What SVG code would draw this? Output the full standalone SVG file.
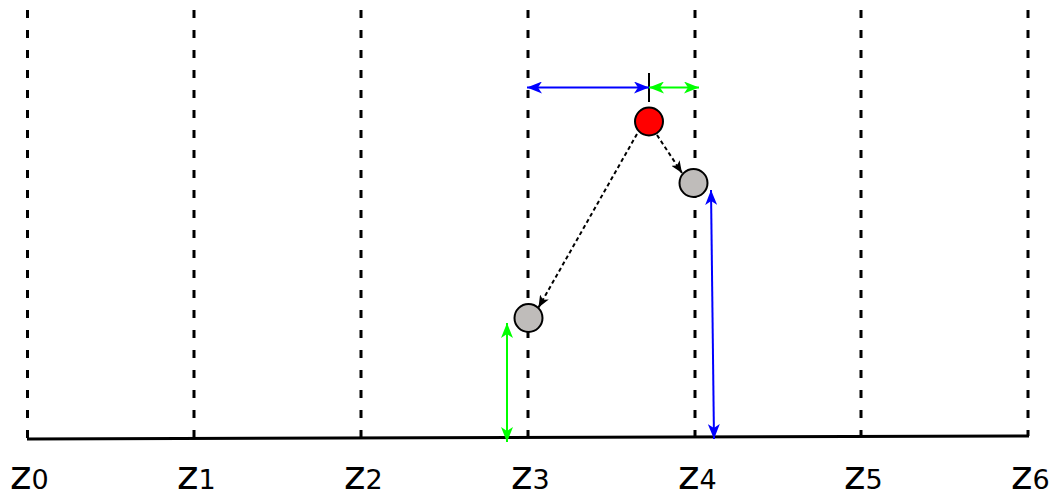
<svg xmlns="http://www.w3.org/2000/svg" width="1062" height="496" viewBox="0 0 1062 496">
<style>
.grid{stroke:#000;stroke-width:3;stroke-dasharray:8 12;fill:none}
.lbl{font-family:"DejaVu Sans",sans-serif;font-size:41px;fill:#000}
.sub{font-size:27px}
.node{stroke:#000;stroke-width:2}
.dash{stroke:#000;stroke-width:2;stroke-dasharray:4 3;fill:none}
</style>
<defs>
<marker id="ab" viewBox="0 0 15 12" refX="15" refY="6" markerWidth="15" markerHeight="12" markerUnits="userSpaceOnUse" orient="auto-start-reverse"><path d="M0,0 L15,6 L0,12 L4,6 z" fill="#0000ff"/></marker>
<marker id="ag" viewBox="0 0 15 12" refX="15" refY="6" markerWidth="15" markerHeight="12" markerUnits="userSpaceOnUse" orient="auto-start-reverse"><path d="M0,0 L15,6 L0,12 L4,6 z" fill="#00ff00"/></marker>
<marker id="ak" viewBox="0 0 12 10" refX="12" refY="5" markerWidth="12" markerHeight="10" markerUnits="userSpaceOnUse" orient="auto"><path d="M0,0 L12,5 L0,10 L3,5 z" fill="#000"/></marker>
</defs>
<g id="grid">
<line class="grid" x1="27.5" y1="10" x2="27.5" y2="439"/>
<line class="grid" x1="194" y1="10" x2="194" y2="439"/>
<line class="grid" x1="361" y1="10" x2="361" y2="438"/>
<line class="grid" x1="528" y1="10" x2="528" y2="438"/>
<line class="grid" x1="695" y1="10" x2="695" y2="437"/>
<line class="grid" x1="861" y1="10" x2="861" y2="437"/>
<line class="grid" x1="1028" y1="10" x2="1028" y2="436"/>
<line x1="27" y1="439" x2="1029" y2="436" stroke="#000" stroke-width="3"/>
<line x1="649" y1="73" x2="649" y2="102" stroke="#000" stroke-width="2"/>
</g>
<g id="labels">
<text class="lbl" x="10" y="489">z<tspan class="sub">0</tspan></text>
<text class="lbl" x="177" y="489">z<tspan class="sub">1</tspan></text>
<text class="lbl" x="344" y="489">z<tspan class="sub">2</tspan></text>
<text class="lbl" x="511" y="489">z<tspan class="sub">3</tspan></text>
<text class="lbl" x="678" y="489">z<tspan class="sub">4</tspan></text>
<text class="lbl" x="844" y="489">z<tspan class="sub">5</tspan></text>
<text class="lbl" x="1011" y="489">z<tspan class="sub">6</tspan></text>
</g>
<g id="connectors">
<line x1="527" y1="87.5" x2="649" y2="87.5" stroke="#0000ff" stroke-width="2" marker-start="url(#ab)" marker-end="url(#ab)"/>
<line x1="649" y1="87.5" x2="699" y2="87.5" stroke="#00ff00" stroke-width="2" marker-start="url(#ag)" marker-end="url(#ag)"/>
<line x1="507" y1="323" x2="507" y2="442" stroke="#00ff00" stroke-width="2" marker-start="url(#ag)" marker-end="url(#ag)"/>
<line x1="711" y1="190" x2="714" y2="439" stroke="#0000ff" stroke-width="2" marker-start="url(#ab)" marker-end="url(#ab)"/>
<line class="dash" x1="637" y1="134" x2="538.5" y2="307.5" marker-end="url(#ak)"/>
<line class="dash" x1="657" y1="135" x2="682" y2="173" marker-end="url(#ak)"/>
</g>
<g id="node-red"><circle class="node" cx="649" cy="121.5" r="14" fill="#ff0000"/></g>
<g id="node-gray1"><circle class="node" cx="693.5" cy="183" r="14" fill="#bfbcba"/></g>
<g id="node-gray2"><circle class="node" cx="528.5" cy="318" r="14" fill="#bfbcba"/></g>
</svg>
